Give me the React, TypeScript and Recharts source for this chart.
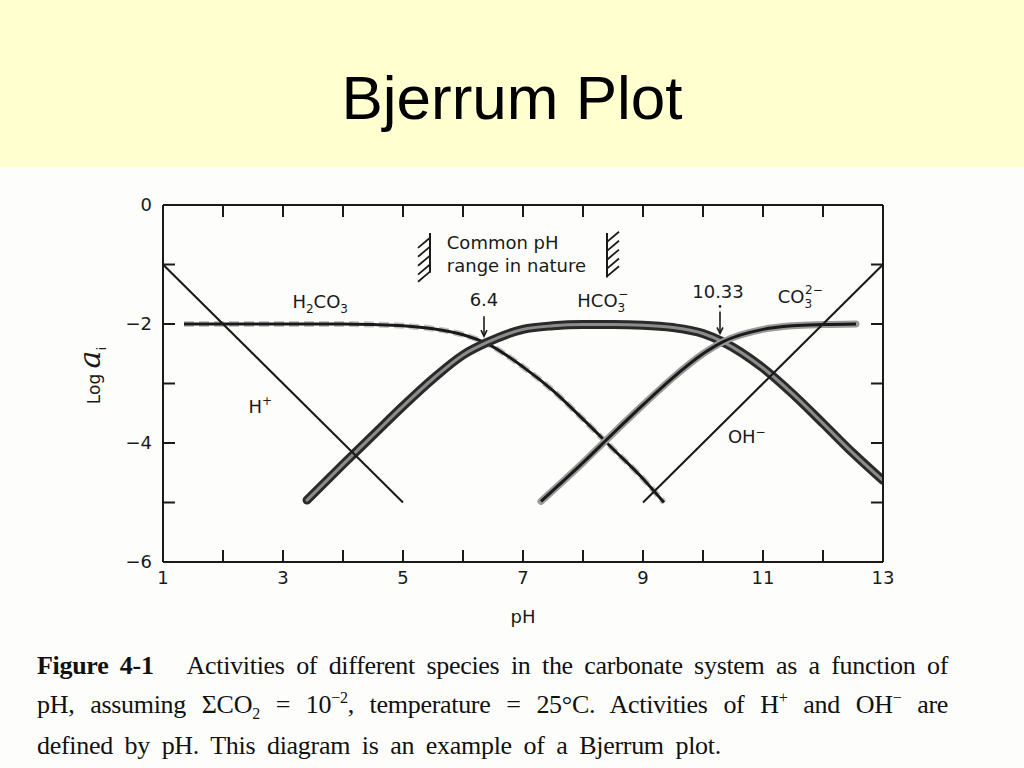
import React from 'react'
import { LineChart, Line, XAxis, YAxis, ReferenceLine, ReferenceDot } from 'recharts'

// axis ticks
const phLabels = [1, 3, 5, 7, 9, 11, 13]
const phMarks = [1, 2, 3, 4, 5, 6, 7, 8, 9, 10, 11, 12, 13]
const logLabels = [0, -2, -4, -6]
const logMarks = [0, -1, -2, -3, -4, -5, -6]

// species (pH, log activity)
const hPh = [1, 5]
const hLog = [-1, -5]
const ohPh = [9, 13]
const ohLog = [-5, -1]
const h2co3Ph = [1.35, 2, 3, 4, 4.5, 5, 5.5, 6, 6.4, 7, 7.5, 8, 8.5, 9, 9.35]
const h2co3Log = [-2, -2, -2, -2, -2.01, -2.03, -2.08, -2.18, -2.33, -2.72, -3.12, -3.6, -4.1, -4.6, -5.0]
const hco3Ph = [3.4, 4, 4.5, 5, 5.5, 6, 6.4, 7, 7.5, 8, 8.5, 9, 9.5, 10, 10.33, 11, 11.5, 12, 12.5, 13]
const hco3Log = [-4.96, -4.36, -3.87, -3.38, -2.92, -2.52, -2.31, -2.09, -2.03, -2.01, -2.01, -2.02, -2.06, -2.16, -2.3, -2.74, -3.18, -3.67, -4.17, -4.63]
const co3Ph = [7.3, 8, 8.5, 9, 9.5, 10, 10.33, 11, 11.5, 12, 12.55]
const co3Log = [-4.98, -4.33, -3.84, -3.36, -2.9, -2.5, -2.3, -2.09, -2.03, -2.01, -2.0]

// "common pH range in nature" brackets
const bracketLeftPh = 5.45
const bracketRightPh = 8.4
const bracketLeftSpan = [-0.47, -1.14]
const bracketRightSpan = [-0.47, -1.22]
const hatchLeftLog = [-0.55, -0.7, -0.85, -1.0, -1.12]
const hatchRightLog = [-0.62, -0.77, -0.92, -1.07, -1.2]

const pts = (ph: number[], lg: number[]) => ph.map((p, i) => ({ ph: p, v: lg[i] }))

const FIG_FONT = '"DejaVu Sans", sans-serif'
const ink = '#1a1a1a'
const fmtLog = (v: number) => (v < 0 ? '\u2212' + Math.abs(v) : String(v))
const NoTick = () => <g />

const Note = (render: (x: number, y: number) => React.ReactNode) => (p: any) => (
  <g>{render(p.cx, p.cy)}</g>
)

const arrow = (x: number, y: number, len: number) => (
  <g stroke={ink} strokeWidth={1.6} fill="none">
    <line x1={x} y1={y} x2={x} y2={y + len} />
    <polyline points={`${x - 3},${y + len - 6} ${x},${y + len} ${x + 3},${y + len - 6}`} />
  </g>
)

const YLabel = (props: any) => {
  const vb = props.viewBox
  const cx = vb.x + 30
  const cy = vb.y + vb.height / 2 - 8
  return (
    <text transform={`rotate(-90 ${cx} ${cy})`} x={cx} y={cy} textAnchor="middle" fontFamily={FIG_FONT} fill={ink}>
      <tspan fontSize={17}>Log </tspan>
      <tspan fontSize={30} fontStyle="italic" fontFamily='"DejaVu Serif", serif'>a</tspan>
      <tspan fontSize={13} dy={6}>i</tspan>
    </text>
  )
}

const capLine = { whiteSpace: 'nowrap' as const, letterSpacing: '-0.3px' }

export default function App() {
  const ax = { xAxisId: 'x', yAxisId: 'y' }
  const hData = pts(hPh, hLog)
  return (
    <div style={{ position: 'absolute', left: 0, top: 0, width: 1024, height: 768, background: '#fdfdfb', overflow: 'hidden' }}>
      <div style={{ position: 'absolute', left: 0, top: 0, width: 1024, height: 167, background: '#ffffd0' }} />
      <div style={{ position: 'absolute', left: 0, top: 67, width: 1024, textAlign: 'center', fontFamily: '"Liberation Sans", Arial, sans-serif', fontSize: 62, lineHeight: '62px', color: '#000' }}>
        Bjerrum Plot
      </div>

      <div style={{ position: 'absolute', left: 0, top: 167 }}>
        <LineChart width={1024} height={480} margin={{ top: 38, right: 141, bottom: 35, left: 70 }}>
          <XAxis xAxisId="x" dataKey="ph" type="number" domain={[1, 13]} ticks={phLabels} allowDataOverflow
            tickLine={false} tickSize={0} tickMargin={9} height={50}
            axisLine={{ stroke: ink, strokeWidth: 2 }}
            tick={{ fill: ink, fontSize: 18, fontFamily: FIG_FONT }}
            label={{ value: 'pH', position: 'insideBottom', offset: -11, fill: ink, fontSize: 18, fontFamily: FIG_FONT }} />
          <XAxis xAxisId="xb" dataKey="ph" type="number" domain={[1, 13]} ticks={phMarks} orientation="bottom" mirror allowDataOverflow
            tick={NoTick} tickSize={12} axisLine={false} tickLine={{ stroke: ink, strokeWidth: 2 }} />
          <XAxis xAxisId="xt" dataKey="ph" type="number" domain={[1, 13]} ticks={phMarks} orientation="top" mirror allowDataOverflow
            tick={NoTick} tickSize={12} axisLine={{ stroke: ink, strokeWidth: 2 }} tickLine={{ stroke: ink, strokeWidth: 2 }} />
          <YAxis yAxisId="y" type="number" domain={[-6, 0]} ticks={logLabels} allowDataOverflow width={93}
            tickLine={false} tickSize={0} tickMargin={11} tickFormatter={fmtLog}
            axisLine={{ stroke: ink, strokeWidth: 2 }}
            tick={{ fill: ink, fontSize: 18, fontFamily: FIG_FONT }}
            label={YLabel} />
          <YAxis yAxisId="yl" type="number" domain={[-6, 0]} ticks={logMarks} orientation="left" mirror allowDataOverflow
            tick={NoTick} tickSize={12} axisLine={false} tickLine={{ stroke: ink, strokeWidth: 2 }} />
          <YAxis yAxisId="yr" type="number" domain={[-6, 0]} ticks={logMarks} orientation="right" mirror allowDataOverflow
            tick={NoTick} tickSize={12} axisLine={{ stroke: ink, strokeWidth: 2 }} tickLine={{ stroke: ink, strokeWidth: 2 }} />

          {/* invisible carriers so the frame axes get their tick marks */}
          <Line xAxisId="xb" yAxisId="yl" data={hData} dataKey="v" stroke="none" strokeWidth={0} dot={false} activeDot={false} isAnimationActive={false} />
          <Line xAxisId="xt" yAxisId="yr" data={hData} dataKey="v" stroke="none" strokeWidth={0} dot={false} activeDot={false} isAnimationActive={false} />

          {/* H2CO3 with its grey ghost */}
          <Line {...ax} data={pts(h2co3Ph, h2co3Log)} dataKey="v" type="monotone" stroke="#c4c4c4" strokeWidth={6} strokeDasharray="10 5" dot={false} isAnimationActive={false} />
          <Line {...ax} data={pts(h2co3Ph, h2co3Log)} dataKey="v" type="monotone" stroke={ink} strokeWidth={3} dot={false} isAnimationActive={false} />

          {/* HCO3- thick tube */}
          <Line {...ax} data={pts(hco3Ph, hco3Log)} dataKey="v" type="monotone" stroke="#2a2a2a" strokeWidth={9} strokeLinecap="round" dot={false} isAnimationActive={false} />
          <Line {...ax} data={pts(hco3Ph, hco3Log)} dataKey="v" type="monotone" stroke="#8c8c8c" strokeWidth={3} strokeLinecap="round" dot={false} isAnimationActive={false} />

          {/* CO3 2- */}
          <Line {...ax} data={pts(co3Ph, co3Log)} dataKey="v" type="monotone" stroke="#9a9a9a" strokeWidth={7} strokeLinecap="round" dot={false} isAnimationActive={false} />
          <Line {...ax} data={pts(co3Ph, co3Log)} dataKey="v" type="monotone" stroke={ink} strokeWidth={3} dot={false} isAnimationActive={false} />

          <Line {...ax} data={hData} dataKey="v" type="linear" stroke={ink} strokeWidth={2} dot={false} isAnimationActive={false} />
          <Line {...ax} data={pts(ohPh, ohLog)} dataKey="v" type="linear" stroke={ink} strokeWidth={2} dot={false} isAnimationActive={false} />

          {/* pH range brackets */}
          <ReferenceLine {...ax} segment={[{ x: bracketLeftPh, y: bracketLeftSpan[0] }, { x: bracketLeftPh, y: bracketLeftSpan[1] }]} stroke={ink} strokeWidth={2} />
          {hatchLeftLog.map((y, i) => (
            <ReferenceLine key={'hl' + i} {...ax} segment={[{ x: bracketLeftPh, y }, { x: bracketLeftPh - 0.2, y: y - 0.17 }]} stroke={ink} strokeWidth={1.8} />
          ))}
          <ReferenceLine {...ax} segment={[{ x: bracketRightPh, y: bracketRightSpan[0] }, { x: bracketRightPh, y: bracketRightSpan[1] }]} stroke={ink} strokeWidth={2} />
          {hatchRightLog.map((y, i) => (
            <ReferenceLine key={'hr' + i} {...ax} segment={[{ x: bracketRightPh, y }, { x: bracketRightPh + 0.2, y: y + 0.17 }]} stroke={ink} strokeWidth={1.8} />
          ))}

          {/* annotations */}
          <ReferenceDot {...ax} x={5.73} y={-0.74} r={0} shape={Note((x, y) => (
            <text x={x} y={y} fontFamily={FIG_FONT} fontSize={18} fill={ink}>
              <tspan x={x}>Common pH</tspan>
              <tspan x={x} dy={23}>range in nature</tspan>
            </text>
          ))} />
          <ReferenceDot {...ax} x={3.62} y={-1.73} r={0} shape={Note((x, y) => (
            <text x={x} y={y} textAnchor="middle" fontFamily={FIG_FONT} fontSize={18} fill={ink}>
              H<tspan fontSize={12} dy={5}>2</tspan><tspan dy={-5}>CO</tspan><tspan fontSize={12} dy={5}>3</tspan>
            </text>
          ))} />
          <ReferenceDot {...ax} x={2.62} y={-3.5} r={0} shape={Note((x, y) => (
            <text x={x} y={y} textAnchor="middle" fontFamily={FIG_FONT} fontSize={18} fill={ink}>
              H<tspan fontSize={12} dy={-8}>+</tspan>
            </text>
          ))} />
          <ReferenceDot {...ax} x={6.35} y={-1.7} r={0} shape={Note((x, y) => (
            <g>
              <text x={x} y={y} textAnchor="middle" fontFamily={FIG_FONT} fontSize={18} fill={ink}>6.4</text>
              {arrow(x, y + 10, 20)}
            </g>
          ))} />
          <ReferenceDot {...ax} x={8.33} y={-1.72} r={0} shape={Note((x, y) => (
            <text x={x} y={y} textAnchor="middle" fontFamily={FIG_FONT} fontSize={18} fill={ink}>
              HCO<tspan fontSize={12} dy={5}>3</tspan><tspan fontSize={12} dx={-7} dy={-14}>{'\u2212'}</tspan>
            </text>
          ))} />
          <ReferenceDot {...ax} x={10.25} y={-1.57} r={0} shape={Note((x, y) => (
            <g>
              <text x={x} y={y} textAnchor="middle" fontFamily={FIG_FONT} fontSize={18} fill={ink}>10.33</text>
              <circle cx={x + 2} cy={y + 8} r={1.3} fill={ink} />
              {arrow(x + 2, y + 13, 22)}
            </g>
          ))} />
          <ReferenceDot {...ax} x={11.62} y={-1.65} r={0} shape={Note((x, y) => (
            <text x={x} y={y} textAnchor="middle" fontFamily={FIG_FONT} fontSize={18} fill={ink}>
              CO<tspan fontSize={12} dy={5}>3</tspan><tspan fontSize={12} dx={-7} dy={-14}>{'2\u2212'}</tspan>
            </text>
          ))} />
          <ReferenceDot {...ax} x={10.73} y={-4.0} r={0} shape={Note((x, y) => (
            <text x={x} y={y} textAnchor="middle" fontFamily={FIG_FONT} fontSize={18} fill={ink}>
              OH<tspan fontSize={12} dy={-7}>{'\u2212'}</tspan>
            </text>
          ))} />
        </LineChart>
      </div>

      <div style={{ position: 'absolute', left: 37, top: 650, width: 911, fontFamily: '"Liberation Serif", "Times New Roman", serif', fontSize: 26, lineHeight: '32px', color: '#111' }}>
        <div style={{ ...capLine, textAlign: 'justify', textAlignLast: 'justify' as any }}>
          <b>Figure 4-1</b>&nbsp;&nbsp; Activities of different species in the carbonate system as a function of
        </div>
        <div style={{ ...capLine, textAlign: 'justify', textAlignLast: 'justify' as any }}>
          pH, assuming ΣCO<sub style={{ fontSize: 16 }}>2</sub> = 10<sup style={{ fontSize: 16 }}>−2</sup>, temperature = 25°C. Activities of H<sup style={{ fontSize: 16 }}>+</sup> and OH<sup style={{ fontSize: 16 }}>−</sup> are
        </div>
        <div style={{ ...capLine, wordSpacing: '5.5px' }}>defined by pH. This diagram is an example of a Bjerrum plot.</div>
      </div>
    </div>
  )
}
